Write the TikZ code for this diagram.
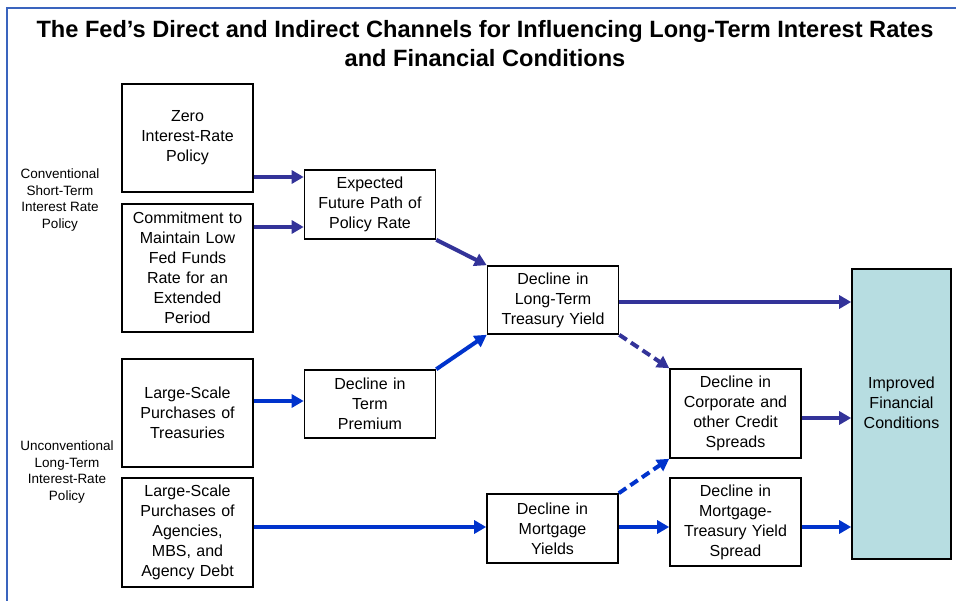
\documentclass[tikz,border=0pt]{standalone}
\usepackage{fontspec}
\setmainfont{Liberation Sans}
\usetikzlibrary{arrows.meta}
\definecolor{fedpurple}{RGB}{51,51,153}
\definecolor{fedblue}{RGB}{0,51,204}
\definecolor{fedteal}{RGB}{183,221,225}
\definecolor{frameblue}{RGB}{58,100,190}

\begin{document}
\begin{tikzpicture}[x=10pt,y=-10pt,>={Triangle[length=12pt,width=13pt]},
  box/.style={draw,line width=1.6pt,fill=white,align=center,inner sep=0pt,
    minimum width=131pt,text width=124pt,font=\fontsize{16}{20}\selectfont},
  side/.style={align=center,inner sep=0pt,font=\fontsize{13.5}{16.5}\selectfont},
  parr/.style={->,fedpurple,line width=4pt},
  barr/.style={->,fedblue,line width=4pt},
  dashline/.style={dash pattern=on 9pt off 5pt}]
\useasboundingbox (0,0) rectangle (95.6,60.1);
\draw[frameblue,line width=1.3pt] (0.7,60.1) -- (0.7,0.8) -- (95.6,0.8);
\node[font=\fontsize{23.6}{29}\selectfont\bfseries,align=center,anchor=north,inner sep=0pt] (title) at (48.5,2.0)
  {The Fed’s Direct and Indirect Channels for Influencing Long-Term Interest Rates\\and Financial Conditions};
\node[side] (conv) at (6.0,20.0) {Conventional\\Short-Term\\Interest Rate\\Policy};
\node[side] (unconv) at (6.7,47.2) {Unconventional\\Long-Term\\Interest-Rate\\Policy};
\node[box,minimum height=108pt] (zero) at (18.75,13.8) {Zero\\Interest-Rate\\Policy};
\node[box,minimum height=128pt] (commit) at (18.75,26.8) {Commitment to\\Maintain Low\\Fed Funds\\Rate for an\\Extended\\Period};
\node[box,minimum height=108pt] (treas) at (18.75,41.3) {Large-Scale\\Purchases of\\Treasuries};
\node[box,minimum height=109pt] (agency) at (18.75,53.25) {Large-Scale\\Purchases of\\Agencies,\\MBS, and\\Agency Debt};
\node[box,minimum height=69pt] (expect) at (37.0,20.45) {Expected\\Future Path of\\Policy Rate};
\node[box,minimum height=68pt] (termprem) at (37.0,40.4) {Decline in\\Term\\Premium};
\node[box,minimum height=68pt] (longterm) at (55.3,30.0) {Decline in\\Long-Term\\Treasury Yield};
\node[box,minimum height=69pt] (mortyld) at (55.25,52.85) {Decline in\\Mortgage\\Yields};
\node[box,minimum height=89pt] (corp) at (73.55,41.35) {Decline in\\Corporate and\\other Credit\\Spreads};
\node[box,minimum height=88pt] (spread) at (73.55,52.2) {Decline in\\Mortgage-\\Treasury Yield\\Spread};
\node[box,fill=fedteal,minimum width=99pt,text width=95pt,minimum height=290pt,
  label={[align=center,font=\fontsize{16}{20}\selectfont,yshift=11pt]center:Improved\\Financial\\Conditions}] (improved) at (90.15,41.4) {};
\draw[parr] (zero.east |- 0,17.7) -- (expect.west |- 0,17.7);
\draw[parr] (commit.east |- 0,22.7) -- (expect.west |- 0,22.7);
\draw[parr] (expect.south east) -- (longterm.north west);
\draw[barr] (treas.east |- 0,40.1) -- (termprem.west |- 0,40.1);
\draw[barr] (termprem.north east) -- (longterm.south west);
\draw[parr] (longterm.east |- 0,30.2) -- (improved.west |- 0,30.2);
\draw[parr,dashline] (longterm.south east) -- (corp.north west);
\draw[parr] (corp.east |- 0,41.8) -- (improved.west |- 0,41.8);
\draw[barr] (agency.east |- 0,52.7) -- (mortyld.west |- 0,52.7);
\draw[barr,dashline] (mortyld.north east) -- (corp.south west);
\draw[barr] (mortyld.east |- 0,52.7) -- (spread.west |- 0,52.7);
\draw[barr] (spread.east |- 0,52.7) -- (improved.west |- 0,52.7);
\end{tikzpicture}
\end{document}
